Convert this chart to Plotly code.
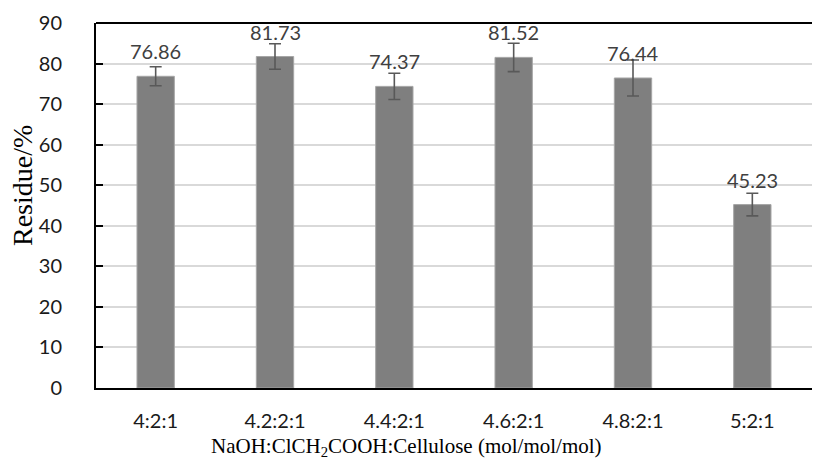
import plotly.graph_objects as go

categories = ["4:2:1", "4.2:2:1", "4.4:2:1", "4.6:2:1", "4.8:2:1", "5:2:1"]
residue = [76.86, 81.73, 74.37, 81.52, 76.44, 45.23]
errors = [2.35, 3.15, 3.25, 3.5, 4.45, 2.8]
y_ticks = [0, 10, 20, 30, 40, 50, 60, 70, 80, 90]

CAL = "Lato, 'Open Sans', sans-serif"
TNR = "'Times New Roman', 'Liberation Serif', serif"

fig = go.Figure()
fig.add_trace(go.Bar(
    x=categories, y=residue,
    marker=dict(color="#7f7f7f", line=dict(color="#a6a6a6", width=1)),
    error_y=dict(type="data", array=errors, visible=True,
                 color="#595959", thickness=1.6, width=6),
    hoverinfo="skip",
))

for c, v in zip(categories, residue):
    fig.add_annotation(x=c, y=v, text=f"{v:.2f}", showarrow=False,
                       yanchor="bottom", yshift=11,
                       font=dict(family=CAL, size=20, color="#404040"))

R = 1
PW = 813 - 96 - R
fig.add_annotation(xref="paper", yref="paper", x=(406 - 96) / PW, y=-(447 - 388) / 365,
                   text="NaOH:ClCH<sub>2</sub>COOH:Cellulose (mol/mol/mol)",
                   showarrow=False, xanchor="center", yanchor="middle",
                   font=dict(family=TNR, size=21, color="black"))
fig.add_annotation(xref="paper", yref="paper", x=-(96 - 22) / PW, y=(388 - 186) / 365,
                   text="Residue/%", textangle=-90,
                   showarrow=False, xanchor="center", yanchor="middle",
                   font=dict(family=TNR, size=28, color="black"))

fig.add_shape(type="line", xref="paper", yref="paper", x0=0, x1=1, y0=1, y1=1,
              line=dict(color="black", width=2))

fig.update_layout(
    width=813, height=468,
    margin=dict(l=96, r=R, t=23, b=80),
    plot_bgcolor="white", paper_bgcolor="white",
    bargap=0.687, showlegend=False,
    font=dict(family=CAL, size=20, color="#1a1a1a"),
)
fig.update_xaxes(
    showline=True, linecolor="black", linewidth=2, mirror=False,
    ticks="", showgrid=False, ticklabelstandoff=14,
    tickfont=dict(family=CAL, size=20, color="#1a1a1a"),
)
fig.update_yaxes(
    range=[0, 90], tickvals=y_ticks, showline=True, linecolor="black", linewidth=2,
    mirror=False,
    ticks="inside", ticklen=7, tickcolor="black", tickwidth=1.5,
    showgrid=True, gridcolor="#d9d9d9", gridwidth=1.5, zeroline=False,
    ticklabelstandoff=28,
    tickfont=dict(family=CAL, size=20, color="#1a1a1a"),
)

fig.write_html("out.html")
